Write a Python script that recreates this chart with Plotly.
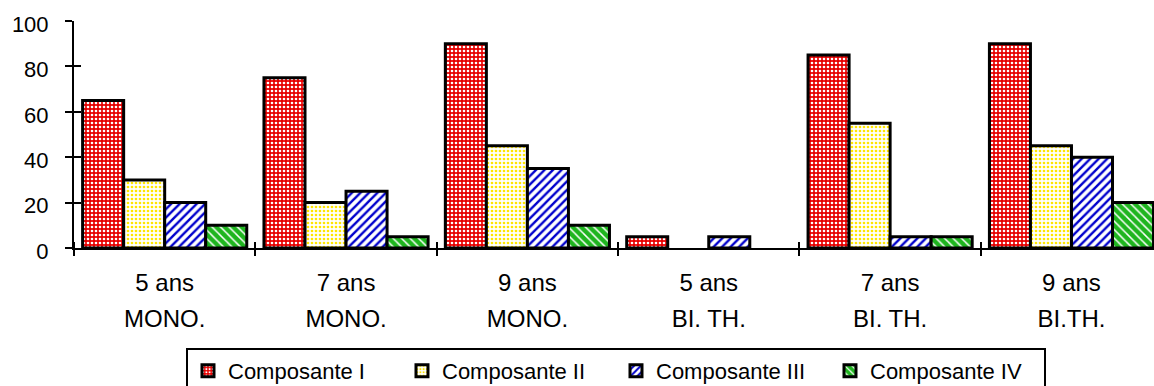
import plotly.graph_objects as go

# Age groups and class types (two-line category labels)
ages = ["5 ans", "7 ans", "9 ans", "5 ans", "7 ans", "9 ans"]
classes = ["MONO.", "MONO.", "MONO.", "BI. TH.", "BI. TH.", "BI.TH."]
positions = [0, 1, 2, 3, 4, 5]

# Scores per component
composante_1 = [65, 75, 90, 5, 85, 90]
composante_2 = [30, 20, 45, 0, 55, 45]
composante_3 = [20, 25, 35, 5, 5, 40]
composante_4 = [10, 5, 10, 0, 5, 20]

series_names = ["Composante I", "Composante II", "Composante III", "Composante IV"]
y_ticks = [0, 20, 40, 60, 80, 100]

styles = [
    dict(shape=".", bgcolor="#E60000", fgcolor="#FFFFFF", size=4, solidity=0.35),
    dict(shape=".", bgcolor="#FFFFFF", fgcolor="#FFE600", size=4, solidity=0.35),
    dict(shape="/", bgcolor="#FFFFFF", fgcolor="#0000CC", size=6, solidity=0.4),
    dict(shape="\\", bgcolor="#1FB51F", fgcolor="#FFFFFF", size=6, solidity=0.25),
]

fig = go.Figure()
for name, vals, pat in zip(series_names,
                           [composante_1, composante_2, composante_3, composante_4],
                           styles):
    # empty (zero) bars get no outline
    edge = [3 if v > 0 else 0 for v in vals]
    fig.add_trace(go.Bar(
        x=positions, y=vals, name=name,
        marker=dict(color=pat["bgcolor"], pattern=dict(fillmode="replace", **pat),
                    line=dict(color="black", width=edge)),
        xaxis="x", yaxis="y",
    ))

# Invisible trace so the overlay axes (second label row, inner tick halves) render
fig.add_trace(go.Scatter(x=positions, y=[0] * 6, xaxis="x2", yaxis="y2",
                         mode="markers", marker=dict(opacity=0),
                         showlegend=False, hoverinfo="skip"))

boundaries = [p - 0.5 for p in positions] + [positions[-1] + 0.5]
x_range = [-0.5, 5.455]
font = "Liberation Sans, Arial, sans-serif"

fig.update_layout(
    width=1154, height=386,
    margin=dict(l=74, r=0, t=21, b=138, autoexpand=False),
    paper_bgcolor="white", plot_bgcolor="white",
    barmode="group", bargap=0.095, bargroupgap=0,
    font=dict(family=font, size=22, color="black"),
    showlegend=True,
    legend=dict(
        orientation="h", x=0.1037, xanchor="left", y=-0.44, yanchor="top",
        bordercolor="black", borderwidth=2, bgcolor="white",
        font=dict(size=22, family=font), traceorder="normal",
        entrywidth=169, entrywidthmode="pixels",
        itemwidth=30,
    ),
    xaxis=dict(
        range=x_range, tickmode="array", tickvals=positions, ticktext=ages,
        ticks="", showgrid=False, zeroline=False, automargin=False,
        showline=True, linecolor="black", linewidth=2,
        ticklabelstandoff=12,
        minor=dict(tickmode="array", tickvals=boundaries, ticks="outside",
                   ticklen=6, tickwidth=2, tickcolor="black", showgrid=False),
        tickfont=dict(size=24),
    ),
    xaxis2=dict(
        overlaying="x", anchor="y", side="bottom", range=x_range,
        tickmode="array", tickvals=positions, ticktext=classes,
        ticks="", showgrid=False, zeroline=False, showline=False, automargin=False,
        ticklabelstandoff=54,
        minor=dict(tickmode="array", tickvals=boundaries, ticks="inside",
                   ticklen=6, tickwidth=2, tickcolor="black", showgrid=False),
        tickfont=dict(size=24),
    ),
    yaxis=dict(
        range=[0, 100], tickmode="array", tickvals=y_ticks,
        ticks="outside", ticklen=7, tickwidth=2, tickcolor="black",
        showgrid=False, zeroline=False, automargin=False,
        showline=True, linecolor="black", linewidth=2,
        tickfont=dict(size=22), ticklabelstandoff=12, ticklabelshift=3,
    ),
    yaxis2=dict(
        overlaying="y", anchor="x", side="left", range=[0, 100],
        tickmode="array", tickvals=y_ticks, showticklabels=False,
        ticks="inside", ticklen=7, tickwidth=2, tickcolor="black",
        showgrid=False, zeroline=False, showline=False, automargin=False,
    ),
)

fig.write_html("out.html")
